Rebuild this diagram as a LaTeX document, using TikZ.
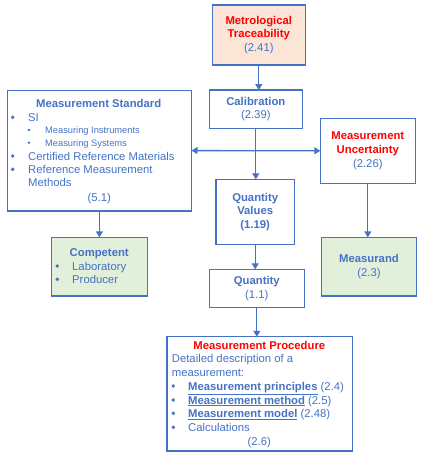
\documentclass[tikz,border=0pt]{standalone}
\usepackage{fontspec}
\setmainfont{Liberation Sans}
\usetikzlibrary{arrows.meta}
\definecolor{vimblue}{HTML}{4472C4}
\definecolor{vimred}{HTML}{FF0000}
\definecolor{peach}{HTML}{FBE5D6}
\definecolor{palegreen}{HTML}{E2EFDA}
\tikzset{
  box/.style={draw=vimblue, line width=1.4pt, inner sep=0pt, outer sep=0pt, align=center,
    text=vimblue, font=\fontsize{11.3}{13.6}\selectfont},
  txt/.style={text=vimblue, inner sep=0pt, anchor=base west, font=\fontsize{11.3}{13.6}\selectfont},
  ctxt/.style={txt, anchor=base},
  smalltxt/.style={txt, font=\fontsize{9.3}{11}\selectfont},
  link/.style={draw=vimblue, line width=1.3pt, -{Triangle[length=6pt,width=7pt]}},
}
\newcommand{\redttl}[1]{\textcolor{vimred}{\bfseries #1}}
\begin{document}
\begin{tikzpicture}[x=1pt, y=-1pt]
  \useasboundingbox (0,0) rectangle (423,456);
  % boxes
  \node[box, fill=peach, minimum width=93pt, minimum height=60pt] (trace) at (258.8,35)
    {\redttl{Metrological}\\\redttl{Traceability}\\(2.41)};
  \node[box, minimum width=93pt, minimum height=38.3pt] (calib) at (255.8,109.2)
    {\bfseries Calibration\\(2.39)};
  \node[box, minimum width=95pt, minimum height=65pt] (uncert) at (367.8,150.8)
    {\redttl{Measurement}\\\redttl{Uncertainty}\\(2.26)};
  \node[box, minimum width=184.2pt, minimum height=120.7pt] (stand) at (99.4,150.6) {};
  \node[box, font=\fontsize{11.3}{13.6}\selectfont\bfseries, minimum width=78.5pt, minimum height=65.2pt] (qval) at (255.2,211.9)
    {Quantity\\Values\\(1.19)};
  \node[box, fill=palegreen, minimum width=95.6pt, minimum height=58.7pt] (compet) at (99.5,266.7) {};
  \node[box, fill=palegreen, minimum width=95pt, minimum height=58.7pt] (msrand) at (369,266.7)
    {\textbf{Measurand}\\(2.3)};
  \node[box, minimum width=95pt, minimum height=38pt] (quant) at (256.8,288.3)
    {\textbf{Quantity}\\(1.1)};
  \node[box, minimum width=185.5pt, minimum height=114.3pt] (proc) at (259.8,393.9) {};

  % measurement standard
  \node[ctxt, font=\fontsize{11.3}{13.6}\selectfont\bfseries] (stdtitle) at (98.7,107.3) {Measurement Standard};
  \fill[vimblue] (12.7,117.3) circle (1.9);
  \node[txt] (stdsi) at (28,121.3) {SI};
  \fill[vimblue] (29,130) circle (1.4);
  \node[smalltxt] (stdinst) at (45,133.3) {Measuring Instruments};
  \fill[vimblue] (29,142.7) circle (1.4);
  \node[smalltxt] (stdsys) at (45,146) {Measuring Systems};
  \fill[vimblue] (12.7,156) circle (1.9);
  \node[txt] (stdcrm) at (28,160) {Certified Reference Materials};
  \fill[vimblue] (12.7,169.3) circle (1.9);
  \node[txt] (stdrmm) at (28,173.3) {Reference Measurement};
  \node[txt] (stdrmm2) at (28,186.7) {Methods};
  \node[ctxt] (stdnum) at (99.3,201.3) {(5.1)};

  % competent
  \node[ctxt, font=\fontsize{11.3}{13.6}\selectfont\bfseries] (comptitle) at (99.2,256.3) {Competent};
  \fill[vimblue] (57.3,266) circle (1.9);
  \node[txt] (complab) at (72,270) {Laboratory};
  \fill[vimblue] (57.3,279.3) circle (1.9);
  \node[txt] (compprod) at (72,283.3) {Producer};

  % measurement procedure
  \node[ctxt, font=\fontsize{11.3}{13.6}\selectfont\bfseries, text=vimred] (proctitle) at (259.3,349) {Measurement Procedure};
  \node[txt] (procdesc) at (171.7,362.3) {Detailed description of a};
  \node[txt] (procdesc2) at (171.7,376.3) {measurement:};
  \fill[vimblue] (173.3,386) circle (1.9);
  \node[txt] (procprin) at (188,390) {\underline{\textbf{Measurement principles}} (2.4)};
  \fill[vimblue] (173.3,400) circle (1.9);
  \node[txt] (procmeth) at (188,404) {\underline{\textbf{Measurement method}} (2.5)};
  \fill[vimblue] (173.3,413.3) circle (1.9);
  \node[txt] (procmodel) at (188,417.3) {\underline{\textbf{Measurement model}} (2.48)};
  \fill[vimblue] (173.3,427.3) circle (1.9);
  \node[txt] (proccalc) at (188,431.3) {Calculations};
  \node[ctxt] (procnum) at (259.3,445) {(2.6)};

  % connectors
  \draw[link] (trace.south) -- (trace.south |- calib.north);
  \draw[link] (calib.south) -- (calib.south |- qval.north);
  \draw[link, {Triangle[length=6pt,width=7pt]}-{Triangle[length=6pt,width=7pt]}] (stand.east) -- (uncert.west);
  \draw[link] (stand.south) -- (stand.south |- compet.north);
  \draw[link] (uncert.south) -- (uncert.south |- msrand.north);
  \draw[link] (qval.south) -- (qval.south |- quant.north);
  \draw[link] (quant.south) -- (quant.south |- proc.north);
\end{tikzpicture}
\end{document}
